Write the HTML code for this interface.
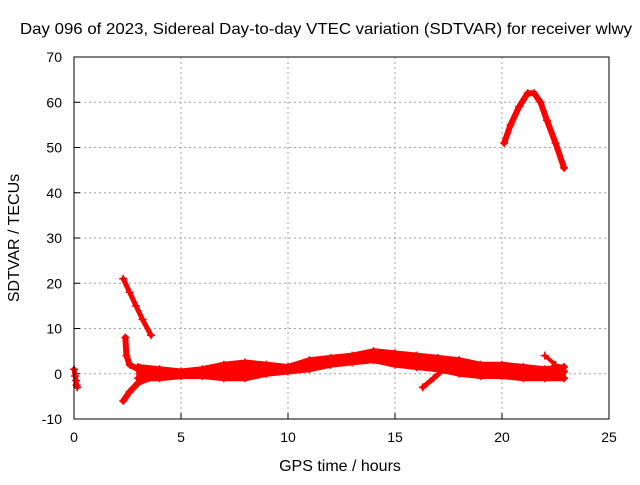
<!DOCTYPE html>
<html><head><meta charset="utf-8"><style>
body{margin:0;background:#fff}
svg text{font-family:"Liberation Sans",sans-serif;font-size:14px;fill:#000}
svg text.big{font-size:16px}
</style></head><body>
<svg id="chart" width="640" height="480" viewBox="0 0 640 480" xmlns="http://www.w3.org/2000/svg">
<text class="big" x="326" y="34" text-anchor="middle" textLength="612" lengthAdjust="spacingAndGlyphs">Day 096 of 2023, Sidereal Day-to-day VTEC variation (SDTVAR) for receiver wlwy</text>
<text class="big" x="340" y="471" text-anchor="middle">GPS time / hours</text>
<text class="big" transform="translate(19,238) rotate(-90)" text-anchor="middle">SDTVAR / TECUs</text>
<g id="grid"></g><g id="axes"></g><g id="marks"></g>
<rect x="74" y="57" width="535" height="362" fill="none" stroke="#000" stroke-width="1"/>
</svg>
<script>
const xTicks=[0,5,10,15,20,25];
const yTicks=[-10,0,10,20,30,40,50,60,70];
const segA=[[0.0,1],[0.05,-0.5],[0.1,-1.5],[0.12,-2.5],[0.15,-3]];
const segB=[[2.3,21],[2.6,18],[2.9,15],[3.2,12],[3.6,8.5]];
const segC=[[2.4,8],[2.45,4],[2.6,2],[3,1],[3.5,0.5],[4,0],[5,0],[6,0.5],[7,0.5],[8,1.5],[9,1],[10,1],[11,2],[12,3],[13,3.5],[14,4.5],[15,3.5],[16,3],[17,2.5],[18,2],[19,1],[20,1.5],[21,0.5],[22,0.5],[22.9,0.5]];
const segUpper=[[3,1.5],[4,1],[5,0.5],[6,1],[7,2],[8,2.5],[9,2],[10,1.5],[11,3],[12,3.5],[13,4],[14,5],[15,4.5],[16,4],[17,3.5],[18,3],[19,2],[20,2],[21,1.5],[22,1],[22.9,1.5]];
const segLower=[[3,-1],[4,-1],[5,-0.5],[6,-0.5],[7,-1],[8,-1],[9,0],[10,0.5],[11,1],[12,2],[13,2.5],[14,3],[15,2],[16,1.5],[17,1],[18,0],[19,-0.5],[20,-0.5],[21,-1],[22,-1],[22.9,-1]];
const segD=[[2.3,-6],[2.6,-4],[3,-2],[3.5,-1]];
const segE=[[16.3,-3],[16.8,-1],[17.3,1],[17.8,2]];
const segF=[[22,4],[22.5,2],[22.8,1]];
const segG=[[20.1,51],[20.4,55],[20.8,59],[21.2,62],[21.5,62],[21.8,60],[22.1,56],[22.5,51],[22.9,45.5]];
const NS='http://www.w3.org/2000/svg';
const X=v=>74+v*535/25;
const Y=v=>419-(v+10)*362/80;
const grid=document.getElementById('grid'),axes=document.getElementById('axes'),marks=document.getElementById('marks');
function mk(t,a,p){const e=document.createElementNS(NS,t);for(const k in a)e.setAttribute(k,a[k]);p.appendChild(e);return e;}
xTicks.forEach(t=>{
 if(t>0&&t<25){const g=mk('line',{x1:X(t),x2:X(t),y1:57,y2:419,stroke:'#a0a0a0','stroke-dasharray':'2,3'},grid);
 
 }
 const tk=mk('line',{x1:X(t),x2:X(t),y1:419,y2:413,stroke:'#000'},axes);
 
 
 const l=mk('text',{x:X(t),y:442,'text-anchor':'middle'},axes);l.textContent=t;
 
 
});
yTicks.forEach(t=>{
 if(t>-10&&t<70){const g=mk('line',{x1:74,x2:609,y1:Y(t),y2:Y(t),stroke:'#a0a0a0','stroke-dasharray':'2,3'},grid);
 
 }
 const tk=mk('line',{x1:74,x2:80,y1:Y(t),y2:Y(t),stroke:'#000'},axes);
 
 
 const l=mk('text',{x:62,y:Y(t)+5,'text-anchor':'end'},axes);l.textContent=t;
 
 
});
const band=mk('polygon',{points:segUpper.concat(segLower.slice().reverse()).map(p=>X(p[0])+','+Y(p[1])).join(' '),fill:'#f00',stroke:'#f00','stroke-width':4,'stroke-linejoin':'round'},marks);


function series(d,w,name){
 const pl=mk('polyline',{points:d.map(p=>X(p[0])+','+Y(p[1])).join(' '),fill:'none',stroke:'#f00','stroke-width':w,'stroke-linejoin':'round','stroke-linecap':'round'},marks);
 
 
 d.forEach(p=>{const m=mk('path',{d:`M${X(p[0])-4},${Y(p[1])}h8M${X(p[0])},${Y(p[1])-4}v8`,stroke:'#f00','stroke-width':1.5},marks);
 
 });
}
series(segA,5,'series-early');
series(segB,5,'series-descending');
series(segC,6,'series-main');
series(segUpper,6,'series-main-upper');
series(segLower,6,'series-main-lower');
series(segD,6,'series-rising-early');
series(segE,5,'series-rising-late');
series(segF,4,'series-late');
series(segG,6,'series-peak');
</script>
</body></html>
